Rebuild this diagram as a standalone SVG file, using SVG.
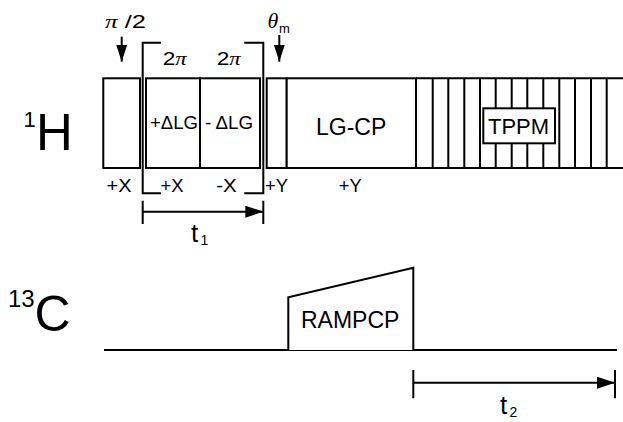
<svg xmlns="http://www.w3.org/2000/svg" width="623" height="422" viewBox="0 0 623 422">
<style>
.ln{stroke:#000;stroke-width:2;fill:none}
.bx{stroke:#000;stroke-width:2;fill:#fff}
text{font-family:"Liberation Sans",Arial,sans-serif;fill:#000}
.m{font-family:"Liberation Serif","Times New Roman",serif;font-style:italic}
.lab{font-size:18px}
</style>
<defs>
<marker id="ah" markerUnits="userSpaceOnUse" markerWidth="18" markerHeight="12" refX="18" refY="6" orient="auto">
<path d="M0,0 L18,6 L0,12 Z" fill="#000"/>
</marker>
<marker id="ahs" markerUnits="userSpaceOnUse" markerWidth="17" markerHeight="11" refX="17" refY="5.5" orient="auto">
<path d="M0,0 L17,5.5 L0,11 Z" fill="#000"/>
</marker>
</defs>

<g id="label-1H">
<text x="23.5" y="127" font-size="22">1</text>
<text x="36" y="150" font-size="51">H</text>
</g>
<g id="label-13C">
<text x="8" y="307" font-size="24">13</text>
<text x="34.5" y="330.5" font-size="50">C</text>
</g>

<g id="pulse-pi2">
<rect class="bx" x="103.3" y="78.3" width="36.7" height="89.7"/>
<text x="105" y="28" font-size="19" textLength="41" lengthAdjust="spacingAndGlyphs"><tspan class="m">π</tspan> /2</text>
</g>
<g id="pulse-plusLG">
<rect class="bx" x="146" y="78.3" width="54" height="89.7"/>
<text x="150" y="128.5" font-size="18.5" textLength="48" lengthAdjust="spacingAndGlyphs">+ΔLG</text>
</g>
<g id="pulse-minusLG">
<rect class="bx" x="200" y="78.3" width="60" height="89.7"/>
<text x="205" y="128.5" font-size="18.5" textLength="48" lengthAdjust="spacingAndGlyphs">- ΔLG</text>
</g>
<g id="bracket-2pi">
<path class="ln" d="M161,42.7 H142.7 V193.3 H161"/>
<path class="ln" d="M244.3,42.7 H263.3 V193.3 H244.3"/>
<text x="162.7" y="65" font-size="19" textLength="24" lengthAdjust="spacingAndGlyphs">2<tspan class="m">π</tspan></text>
<text x="216.7" y="65" font-size="19" textLength="24" lengthAdjust="spacingAndGlyphs">2<tspan class="m">π</tspan></text>
</g>
<g id="pulse-thetam">
<rect class="bx" x="266.7" y="78.3" width="20" height="89.7"/>
<text class="m" x="267.5" y="28" font-size="22">θ</text>
<text x="279" y="33" font-size="13">m</text>
</g>
<g id="lg-cp">
<rect class="bx" x="286.7" y="78.3" width="129.3" height="89.7"/>
<text x="316" y="135" font-size="23">LG-CP</text>
</g>
<g id="tppm">
<path class="ln" d="M416,78.3 H623 M416,168 H623"/>
<path class="ln" d="M416,78.3 V168 M432.7,78.3 V168 M448.3,78.3 V168 M464.3,78.3 V168 M480,78.3 V168 M495.7,78.3 V168 M511.7,78.3 V168 M527.3,78.3 V168 M543.3,78.3 V168 M559.3,78.3 V168 M575,78.3 V168 M591,78.3 V168 M606.7,78.3 V168"/>
<rect class="bx" x="483.3" y="108.3" width="71.7" height="35"/>
<text x="488" y="134" font-size="22">TPPM</text>
</g>
<g id="phases">
<text class="lab" x="106.5" y="191.7" textLength="25" lengthAdjust="spacingAndGlyphs">+X</text>
<text class="lab" x="160.5" y="191.7" textLength="23" lengthAdjust="spacingAndGlyphs">+X</text>
<text class="lab" x="216.2" y="191.7" textLength="20.5" lengthAdjust="spacingAndGlyphs">-X</text>
<text class="lab" x="265" y="191.7" textLength="23" lengthAdjust="spacingAndGlyphs">+Y</text>
<text class="lab" x="338.7" y="191.7" textLength="23" lengthAdjust="spacingAndGlyphs">+Y</text>
</g>
<g id="rampcp">
<path class="ln" d="M104,350 H617"/>
<path class="bx" d="M288.3,350 V297.3 L413.3,267.7 V350"/>
<text x="301" y="327.5" font-size="23">RAMPCP</text>
</g>
<g id="t1">
<text x="191" y="241.5" font-size="26">t</text>
<text x="200.5" y="245" font-size="14">1</text>
</g>
<g id="t2">
<text x="500" y="414" font-size="26">t</text>
<text x="509.5" y="417" font-size="14">2</text>
</g>
<g id="connectors">
<path class="ln" d="M121.7,36.7 V61.7" marker-end="url(#ahs)"/>
<path class="ln" d="M279.3,35 V61.7" marker-end="url(#ahs)"/>
<path class="ln" d="M142.7,211.7 H263.3" marker-end="url(#ah)"/>
<path class="ln" d="M142.7,200.7 V224 M263.3,200.7 V224"/>
<path class="ln" d="M413.3,382.7 H615" marker-end="url(#ah)"/>
<path class="ln" d="M413.3,370 V398.3 M615,370 V398.3"/>
</g>
</svg>
